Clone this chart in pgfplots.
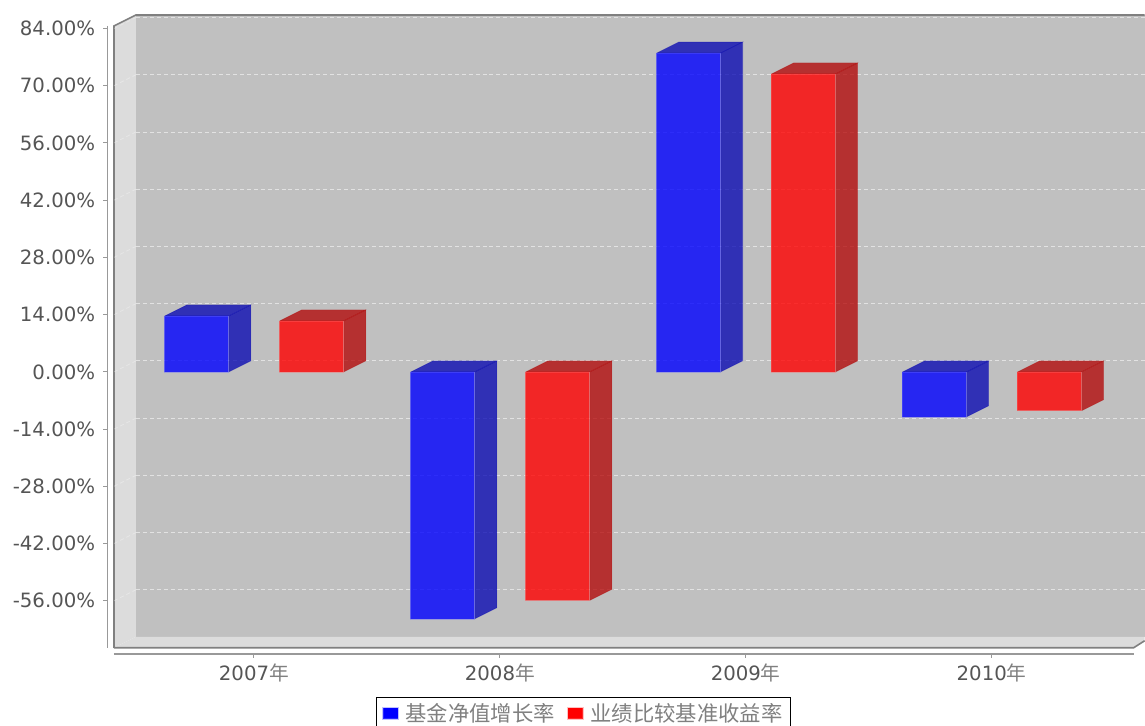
\documentclass[border=0pt]{standalone}
\usepackage{fontspec}
\usepackage{pgfplots}
\pgfplotsset{compat=1.18}
\setmainfont{DejaVu Sans}
\newfontfamily\cjk{Noto Sans CJK SC}
\definecolor{wallback}{HTML}{C0C0C0}
\definecolor{wallside}{HTML}{DCDCDC}
\definecolor{frameline}{HTML}{808080}
\definecolor{axisline}{HTML}{999999}
\definecolor{labeltext}{HTML}{555555}
\definecolor{sideblue}{rgb}{0,0,0.7}
\definecolor{sidered}{rgb}{0.7,0,0}

% Depth of the extruded bars, in x units and in percent
\newcommand{\depthx}{22}
\newcommand{\depthy}{2.69}

% Side and top faces of one bar: left edge, value, face colour
\newcommand{\barfaces}[3]{%
  \pgfmathsetmacro\xr{#1+64}%
  \pgfmathsetmacro\xb{#1+64+\depthx}%
  \pgfmathsetmacro\xlb{#1+\depthx}%
  \pgfmathsetmacro\yt{max(#2,0)}%
  \pgfmathsetmacro\yb{min(#2,0)}%
  \pgfmathsetmacro\ytb{\yt+\depthy}%
  \pgfmathsetmacro\ybb{\yb+\depthy}%
  \edef\facecmd{%
    \noexpand\addplot[forget plot,draw=#3,draw opacity=0.3,fill=#3,fill opacity=0.75]
      coordinates {(\xr,\yb)(\xb,\ybb)(\xb,\ytb)(\xr,\yt)(\xr,\yb)};
    \noexpand\addplot[forget plot,draw=#3,draw opacity=0.3,fill=#3,fill opacity=0.75]
      coordinates {(#1,\yt)(\xlb,\ytb)(\xb,\ytb)(\xr,\yt)(#1,\yt)};
  }%
  \facecmd
}

\begin{document}
\begin{tikzpicture}
% Room walls and floor, laid out on a 1145 x 726 grid measured from the top left
\begin{scope}[x=0.75pt,y=-0.75pt,yshift=544.5pt]
  \useasboundingbox (0,0) rectangle (1145,726);
  \fill[wallback] (136,15) rectangle (1145,637);
  \fill[wallside] (114,26) -- (136,15) -- (136,637) -- (114,648) -- cycle;
  \fill[wallside] (114,648) -- (136,637) -- (1145,637) -- (1145,641) -- (1134,648) -- cycle;
  \draw[frameline,line width=1.2pt] (114,648) -- (114,26) -- (136,15) -- (1145,15);
  \draw[frameline,line width=1.2pt] (114,648) -- (1134,648) -- (1145,641);
  \draw[axisline,line width=1.2pt] (107.5,26) -- (107.5,648);
  \draw[axisline,line width=1.2pt] (114,654) -- (1134,654);
\end{scope}
\begin{axis}[
  at={(80.625pt,54pt)},
  anchor=south west,
  scale only axis,
  width=778.125pt,
  height=481.5pt,
  xmin=107.5, xmax=1145,
  ymin=-68.96, ymax=88.03,
  axis line style={draw=none},
  clip=false,
  tick align=outside,
  xtick pos=bottom,
  ytick pos=left,
  major tick length=3pt,
  tick style={draw=axisline,line width=0.8pt},
  xtick={254,500,746,992},
  xticklabels={
    2007{\cjk\textcolor{gray}{年}},
    2008{\cjk\textcolor{gray}{年}},
    2009{\cjk\textcolor{gray}{年}},
    2010{\cjk\textcolor{gray}{年}}},
  ytick={-56,-42,-28,-14,0,14,28,42,56,70,84},
  yticklabel={\pgfmathprintnumber[fixed,fixed zerofill,precision=2,assume math mode=true]{\tick}\%},
  ticklabel style={font=\fontsize{14.8}{17}\selectfont,text=labeltext},
  yticklabel style={xshift=-2.7pt},
  xticklabel style={yshift=-1.2pt},
  legend style={
    overlay,
    at={(0.2588,-0.067)},
    anchor=north west,
    legend columns=2,
    draw=black,
    line width=1.1pt,
    inner xsep=4.2pt,
    inner ysep=2.6pt,
    font=\fontsize{16}{19}\selectfont\cjk,
    text=gray,
    /tikz/every even column/.style={column sep=7pt},
  },
  legend image code/.code={
    \fill[#1] (0pt,-4pt) rectangle (11.5pt,4.5pt);
  },
]
  % Dashed grid on the back wall, continued across the side wall
  \pgfplotsinvokeforeach{-56,-42,-28,-14,0,14,28,42,56,70,84}{
    \draw[white,opacity=0.55,line width=0.6pt,dash pattern=on 3pt off 2.2pt]
      (axis cs:136,#1+\depthy) -- (axis cs:1145,#1+\depthy);
    \draw[white,opacity=0.3,line width=0.6pt,dash pattern=on 3pt off 2.2pt]
      (axis cs:114,#1) -- (axis cs:136,#1+\depthy);
  }

  \barfaces{165}{13.7}{sideblue}
  \barfaces{411}{-60.4}{sideblue}
  \barfaces{657}{78.0}{sideblue}
  \barfaces{903}{-11.0}{sideblue}

  \barfaces{280}{12.5}{sidered}
  \barfaces{526}{-55.9}{sidered}
  \barfaces{772}{72.9}{sidered}
  \barfaces{1018}{-9.5}{sidered}

  \addplot[ybar,bar width=48pt,bar shift=-43.125pt,fill=blue,fill opacity=0.8,draw=blue!60!white,draw opacity=0.4,legend image post style={fill opacity=1,draw=none}]
    coordinates {(254,13.7)(500,-60.4)(746,78.0)(992,-11.0)};
  \addlegendentry{\hspace*{3pt}基金净值增长率}
  \addplot[ybar,bar width=48pt,bar shift=43.125pt,fill=red,fill opacity=0.8,draw=red!60!white,draw opacity=0.4,legend image post style={fill opacity=1,draw=none}]
    coordinates {(254,12.5)(500,-55.9)(746,72.9)(992,-9.5)};
  \addlegendentry{\hspace*{3pt}业绩比较基准收益率}
\end{axis}
\end{tikzpicture}
\end{document}
